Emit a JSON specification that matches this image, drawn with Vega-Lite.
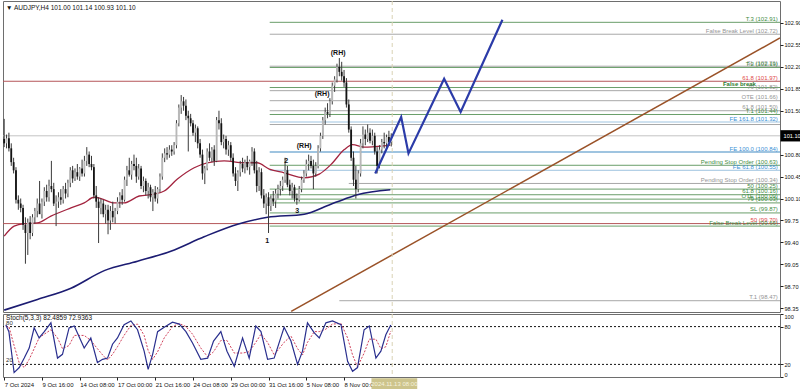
{
  "$schema": "https://vega.github.io/schema/vega-lite/v6.json",
  "padding": 0,
  "spacing": 2,
  "bounds": "flush",
  "background": "white",
  "config": {
    "font": "Liberation Sans",
    "view": {"stroke": "#6e6e6e", "strokeWidth": 1},
    "axis": {"grid": false, "domain": false, "tickColor": "#222", "tickSize": 3, "labelFontSize": 6, "labelColor": "#111", "labelPadding": 2, "labelOverlap": false, "title": null}
  },
  "datasets": {
    "candles": [
      {"i":0,"o":101.05,"h":101.37,"l":100.92,"c":100.98},{"i":1,"o":100.98,"h":101.12,"l":100.90,"c":101.06},{"i":2,"o":101.06,"h":101.15,"l":100.85,"c":100.90},{"i":3,"o":100.90,"h":100.98,"l":100.62,"c":100.68},{"i":4,"o":100.68,"h":100.75,"l":100.50,"c":100.55},
      {"i":5,"o":100.55,"h":100.60,"l":100.02,"c":100.08},{"i":6,"o":100.08,"h":100.15,"l":99.92,"c":100.02},{"i":7,"o":100.02,"h":100.10,"l":99.88,"c":99.95},{"i":8,"o":99.95,"h":100.00,"l":99.60,"c":99.68},{"i":9,"o":99.68,"h":99.80,"l":99.06,"c":99.55},
      {"i":10,"o":99.55,"h":99.78,"l":99.20,"c":99.72},{"i":11,"o":99.72,"h":99.82,"l":99.45,"c":99.55},{"i":12,"o":99.55,"h":99.85,"l":99.50,"c":99.80},{"i":13,"o":99.80,"h":99.95,"l":99.70,"c":99.90},{"i":14,"o":99.90,"h":100.10,"l":99.80,"c":100.02},
      {"i":15,"o":100.02,"h":100.38,"l":99.95,"c":99.85},{"i":16,"o":99.85,"h":100.10,"l":99.78,"c":100.05},{"i":17,"o":100.05,"h":100.28,"l":99.98,"c":100.22},{"i":18,"o":100.22,"h":100.32,"l":100.05,"c":100.12},{"i":19,"o":100.12,"h":100.40,"l":100.05,"c":100.30},
      {"i":20,"o":100.30,"h":100.70,"l":100.20,"c":100.25},{"i":21,"o":100.25,"h":100.35,"l":99.98,"c":100.02},{"i":22,"o":100.02,"h":100.15,"l":99.66,"c":100.05},{"i":23,"o":100.05,"h":100.20,"l":99.95,"c":100.12},{"i":24,"o":100.12,"h":100.25,"l":100.00,"c":100.08},
      {"i":25,"o":100.08,"h":100.30,"l":100.02,"c":100.25},{"i":26,"o":100.25,"h":100.35,"l":100.10,"c":100.18},{"i":27,"o":100.18,"h":100.40,"l":100.12,"c":100.35},{"i":28,"o":100.35,"h":100.60,"l":100.28,"c":100.55},{"i":29,"o":100.55,"h":100.62,"l":100.35,"c":100.42},
      {"i":30,"o":100.42,"h":100.58,"l":100.38,"c":100.52},{"i":31,"o":100.52,"h":100.65,"l":100.40,"c":100.45},{"i":32,"o":100.45,"h":100.60,"l":100.38,"c":100.58},{"i":33,"o":100.58,"h":100.72,"l":100.45,"c":100.50},{"i":34,"o":100.50,"h":100.78,"l":100.45,"c":100.70},
      {"i":35,"o":100.70,"h":100.92,"l":100.62,"c":100.80},{"i":36,"o":100.80,"h":100.85,"l":100.60,"c":100.65},{"i":37,"o":100.65,"h":100.78,"l":100.55,"c":100.60},{"i":38,"o":100.60,"h":100.65,"l":100.10,"c":100.15},{"i":39,"o":100.15,"h":100.30,"l":99.95,"c":100.05},
      {"i":40,"o":100.05,"h":100.12,"l":99.39,"c":99.95},{"i":41,"o":99.95,"h":100.10,"l":99.85,"c":100.02},{"i":42,"o":100.02,"h":100.08,"l":99.80,"c":99.85},{"i":43,"o":99.85,"h":100.00,"l":99.70,"c":99.92},{"i":44,"o":99.92,"h":100.00,"l":99.53,"c":99.75},
      {"i":45,"o":99.75,"h":99.98,"l":99.60,"c":99.90},{"i":46,"o":99.90,"h":100.05,"l":99.72,"c":99.80},{"i":47,"o":99.80,"h":99.95,"l":99.70,"c":99.90},{"i":48,"o":99.90,"h":100.12,"l":99.85,"c":100.05},{"i":49,"o":100.05,"h":100.20,"l":99.95,"c":100.15},
      {"i":50,"o":100.15,"h":100.25,"l":100.00,"c":100.08},{"i":51,"o":100.08,"h":100.45,"l":100.05,"c":100.40},{"i":52,"o":100.40,"h":100.62,"l":100.30,"c":100.55},{"i":53,"o":100.55,"h":100.75,"l":100.45,"c":100.48},{"i":54,"o":100.48,"h":100.70,"l":100.40,"c":100.65},
      {"i":55,"o":100.65,"h":100.80,"l":100.55,"c":100.62},{"i":56,"o":100.62,"h":100.75,"l":100.35,"c":100.45},{"i":57,"o":100.45,"h":100.65,"l":100.40,"c":100.58},{"i":58,"o":100.58,"h":100.62,"l":100.25,"c":100.30},{"i":59,"o":100.30,"h":100.45,"l":100.20,"c":100.38},
      {"i":60,"o":100.38,"h":100.42,"l":100.15,"c":100.22},{"i":61,"o":100.22,"h":100.35,"l":100.10,"c":100.28},{"i":62,"o":100.28,"h":100.32,"l":100.05,"c":100.12},{"i":63,"o":100.12,"h":100.25,"l":99.90,"c":100.20},{"i":64,"o":100.20,"h":100.30,"l":100.05,"c":100.10},
      {"i":65,"o":100.10,"h":100.28,"l":100.02,"c":100.25},{"i":66,"o":100.25,"h":100.50,"l":100.20,"c":100.45},{"i":67,"o":100.45,"h":100.82,"l":100.40,"c":100.75},{"i":68,"o":100.75,"h":100.90,"l":100.68,"c":100.82},{"i":69,"o":100.82,"h":100.92,"l":100.72,"c":100.80},
      {"i":70,"o":100.80,"h":100.95,"l":100.75,"c":100.88},{"i":71,"o":100.88,"h":100.95,"l":100.78,"c":100.85},{"i":72,"o":100.85,"h":101.00,"l":100.80,"c":100.95},{"i":73,"o":100.95,"h":101.35,"l":100.90,"c":101.30},{"i":74,"o":101.30,"h":101.60,"l":101.25,"c":101.55},
      {"i":75,"o":101.55,"h":101.75,"l":101.45,"c":101.65},{"i":76,"o":101.65,"h":101.72,"l":101.50,"c":101.58},{"i":77,"o":101.58,"h":101.68,"l":101.35,"c":101.42},{"i":78,"o":101.42,"h":101.50,"l":100.85,"c":101.38},{"i":79,"o":101.38,"h":101.45,"l":101.25,"c":101.30},
      {"i":80,"o":101.30,"h":101.35,"l":101.10,"c":101.15},{"i":81,"o":101.15,"h":101.28,"l":101.00,"c":101.22},{"i":82,"o":101.22,"h":101.25,"l":100.90,"c":100.98},{"i":83,"o":100.98,"h":101.05,"l":100.75,"c":100.80},{"i":84,"o":100.80,"h":100.88,"l":100.40,"c":100.50},
      {"i":85,"o":100.50,"h":100.62,"l":100.33,"c":100.58},{"i":86,"o":100.58,"h":100.90,"l":100.55,"c":100.85},{"i":87,"o":100.85,"h":100.98,"l":100.70,"c":100.75},{"i":88,"o":100.75,"h":100.92,"l":100.68,"c":100.88},{"i":89,"o":100.88,"h":100.95,"l":100.62,"c":100.70},
      {"i":90,"o":100.70,"h":101.40,"l":100.68,"c":101.35},{"i":91,"o":101.35,"h":101.50,"l":101.20,"c":101.30},{"i":92,"o":101.30,"h":101.38,"l":100.95,"c":101.00},{"i":93,"o":101.00,"h":101.12,"l":100.90,"c":101.05},{"i":94,"o":101.05,"h":101.10,"l":100.80,"c":100.88},
      {"i":95,"o":100.88,"h":101.02,"l":100.78,"c":100.95},{"i":96,"o":100.95,"h":101.00,"l":100.70,"c":100.75},{"i":97,"o":100.75,"h":100.82,"l":100.45,"c":100.50},{"i":98,"o":100.50,"h":100.60,"l":100.30,"c":100.38},{"i":99,"o":100.38,"h":100.55,"l":100.22,"c":100.52},
      {"i":100,"o":100.52,"h":100.70,"l":100.45,"c":100.65},{"i":101,"o":100.65,"h":100.75,"l":100.52,"c":100.58},{"i":102,"o":100.58,"h":100.72,"l":100.50,"c":100.68},{"i":103,"o":100.68,"h":100.78,"l":100.55,"c":100.60},{"i":104,"o":100.60,"h":100.72,"l":100.48,"c":100.70},
      {"i":105,"o":100.70,"h":100.92,"l":100.62,"c":100.85},{"i":106,"o":100.85,"h":100.90,"l":100.50,"c":100.55},{"i":107,"o":100.55,"h":100.70,"l":100.20,"c":100.30},{"i":108,"o":100.30,"h":100.60,"l":100.22,"c":100.52},{"i":109,"o":100.52,"h":100.58,"l":100.10,"c":100.15},
      {"i":110,"o":100.15,"h":100.25,"l":99.95,"c":100.02},{"i":111,"o":100.02,"h":100.18,"l":99.85,"c":100.12},{"i":112,"o":100.12,"h":100.20,"l":99.55,"c":99.98},{"i":113,"o":99.98,"h":100.15,"l":99.90,"c":100.10},{"i":114,"o":100.10,"h":100.22,"l":99.98,"c":100.05},
      {"i":115,"o":100.05,"h":100.25,"l":99.95,"c":100.18},{"i":116,"o":100.18,"h":100.32,"l":100.10,"c":100.25},{"i":117,"o":100.25,"h":100.38,"l":100.15,"c":100.30},{"i":118,"o":100.30,"h":100.45,"l":100.22,"c":100.40},{"i":119,"o":100.40,"h":100.75,"l":100.35,"c":100.55},
      {"i":120,"o":100.55,"h":100.62,"l":100.28,"c":100.32},{"i":121,"o":100.32,"h":100.40,"l":100.15,"c":100.22},{"i":122,"o":100.22,"h":100.35,"l":100.10,"c":100.28},{"i":123,"o":100.28,"h":100.32,"l":100.05,"c":100.10},{"i":124,"o":100.10,"h":100.18,"l":100.00,"c":100.08},
      {"i":125,"o":100.08,"h":100.30,"l":100.05,"c":100.25},{"i":126,"o":100.25,"h":100.45,"l":100.20,"c":100.40},{"i":127,"o":100.40,"h":100.55,"l":100.35,"c":100.50},{"i":128,"o":100.50,"h":100.72,"l":100.45,"c":100.65},{"i":129,"o":100.65,"h":100.80,"l":100.55,"c":100.70},
      {"i":130,"o":100.70,"h":100.78,"l":100.58,"c":100.62},{"i":131,"o":100.62,"h":100.72,"l":100.25,"c":100.50},{"i":132,"o":100.50,"h":100.68,"l":100.45,"c":100.62},{"i":133,"o":100.62,"h":100.95,"l":100.58,"c":100.90},{"i":134,"o":100.90,"h":101.15,"l":100.85,"c":101.10},
      {"i":135,"o":101.10,"h":101.40,"l":101.05,"c":101.35},{"i":136,"o":101.35,"h":101.55,"l":101.28,"c":101.48},{"i":137,"o":101.48,"h":101.62,"l":101.38,"c":101.45},{"i":138,"o":101.45,"h":101.70,"l":101.40,"c":101.65},{"i":139,"o":101.65,"h":101.95,"l":101.60,"c":101.90},
      {"i":140,"o":101.90,"h":102.05,"l":101.80,"c":102.00},{"i":141,"o":102.00,"h":102.25,"l":101.95,"c":102.20},{"i":142,"o":102.20,"h":102.34,"l":102.05,"c":102.12},{"i":143,"o":102.12,"h":102.28,"l":101.98,"c":102.05},{"i":144,"o":102.05,"h":102.15,"l":101.88,"c":101.95},
      {"i":145,"o":101.95,"h":102.02,"l":101.55,"c":101.60},{"i":146,"o":101.60,"h":101.68,"l":101.15,"c":101.20},{"i":147,"o":101.20,"h":101.25,"l":100.70,"c":100.75},{"i":148,"o":100.75,"h":100.85,"l":100.30,"c":100.40},{"i":149,"o":100.40,"h":100.62,"l":100.10,"c":100.25},
      {"i":150,"o":100.25,"h":100.55,"l":100.20,"c":100.50},{"i":151,"o":100.50,"h":101.05,"l":100.45,"c":100.98},{"i":152,"o":100.98,"h":101.25,"l":100.90,"c":101.12},{"i":153,"o":101.12,"h":101.20,"l":100.95,"c":101.05},{"i":154,"o":101.05,"h":101.28,"l":101.00,"c":101.15},
      {"i":155,"o":101.15,"h":101.22,"l":100.98,"c":101.02},{"i":156,"o":101.02,"h":101.20,"l":100.95,"c":101.10},{"i":157,"o":101.10,"h":101.15,"l":100.80,"c":100.85},{"i":158,"o":100.85,"h":100.92,"l":100.50,"c":100.62},{"i":159,"o":100.62,"h":100.95,"l":100.58,"c":100.88},
      {"i":160,"o":100.88,"h":101.05,"l":100.82,"c":101.00},{"i":161,"o":101.00,"h":101.15,"l":100.90,"c":100.98},{"i":162,"o":100.98,"h":101.12,"l":100.88,"c":101.08},{"i":163,"o":101.08,"h":101.18,"l":100.95,"c":101.00},{"i":164,"o":101.00,"h":101.14,"l":100.93,"c":101.10}
    ],
    "levels": [
      {"p":102.91,"s":112.5,"k":"g","t":"T.3 (102.91)"},
      {"p":102.72,"s":112.5,"k":"a","t":"False Break Level (102.72)"},
      {"p":102.21,"s":112.5,"k":"a","t":"SL (102.21)"},
      {"p":102.19,"s":112.5,"k":"g","t":"T.2 (102.19)"},
      {"p":101.97,"s":-0.5,"k":"r","t":"61.8 (101.97)"},
      {"p":101.87,"s":112.5,"k":"g","t":""},
      {"p":101.82,"s":112.5,"k":"a","t":"79 (101.82)"},
      {"p":101.66,"s":112.5,"k":"a","t":"OTE (101.66)"},
      {"p":101.50,"s":112.5,"k":"a","t":"61.8 (101.50)"},
      {"p":101.44,"s":112.5,"k":"g","t":"T.1 (101.44)"},
      {"p":101.32,"s":112.5,"k":"b","t":"FE 161.8 (101.32)"},
      {"p":101.28,"s":112.5,"k":"a","t":""},
      {"p":101.10,"s":-0.5,"k":"c","t":""},
      {"p":100.84,"s":112.5,"k":"b","t":"FE 100.0 (100.84)"},
      {"p":100.63,"s":112.5,"k":"g","t":"Pending Stop Order (100.63)"},
      {"p":100.55,"s":112.5,"k":"b","t":"FE 61.8 (100.55)"},
      {"p":100.34,"s":146,"k":"a","t":"Pending Stop Order (100.34)"},
      {"p":100.25,"s":112.5,"k":"g","t":"50 (100.25)"},
      {"p":100.16,"s":112.5,"k":"g","t":"61.8 (100.16)"},
      {"p":100.09,"s":112.5,"k":"g","t":"OTE (100.09)"},
      {"p":100.03,"s":112.5,"k":"g","t":"79 (100.03)"},
      {"p":99.87,"s":112.5,"k":"g","t":"SL (99.87)"},
      {"p":99.70,"s":-0.5,"k":"r","t":"50 (99.70)"},
      {"p":99.66,"s":112.5,"k":"g","t":"False Break Level (99.66)"},
      {"p":98.47,"s":142,"k":"a","t":"T.1 (98.47)"}
    ],
    "ma200": [
      {"i":0,"p":98.32},{"i":14.1,"p":98.49},{"i":28.3,"p":98.67},{"i":42.4,"p":98.95},{"i":56.5,"p":99.10},{"i":70.6,"p":99.26},{"i":84.7,"p":99.49},{"i":98.9,"p":99.69},{"i":111.6,"p":99.80},{"i":127.1,"p":99.85},{"i":138.4,"p":100.01},{"i":144.1,"p":100.09},{"i":149.6,"p":100.16},{"i":163.6,"p":100.24}
    ],
    "ma50": [
      {"i":0,"p":99.50},{"i":4.2,"p":99.66},{"i":8.5,"p":99.70},{"i":14,"p":99.71},{"i":19.8,"p":99.82},{"i":28.3,"p":99.95},{"i":33.9,"p":100.03},{"i":38.1,"p":100.12},{"i":41,"p":100.10},{"i":46.6,"p":100.03},{"i":50.8,"p":100.03},{"i":57.2,"p":100.14},{"i":63.6,"p":100.17},{"i":67.8,"p":100.22},{"i":73.4,"p":100.41},{"i":80.5,"p":100.59},{"i":86,"p":100.67},{"i":93.2,"p":100.70},{"i":101.7,"p":100.67},{"i":107.2,"p":100.67},{"i":112.3,"p":100.57},{"i":118.6,"p":100.51},{"i":127.1,"p":100.43},{"i":133.5,"p":100.49},{"i":138.4,"p":100.64},{"i":144.1,"p":100.88},{"i":147.6,"p":100.96},{"i":152.5,"p":100.92},{"i":161,"p":100.94},{"i":163.6,"p":100.95}
    ],
    "trend": [{"i":121.6,"p":98.30},{"i":328.7,"p":102.66}],
    "zigzag": [
      {"i":157.2,"p":100.50},{"i":168.2,"p":101.40},{"i":171.3,"p":100.82},{"i":186.4,"p":102.01},{"i":193.4,"p":101.48},{"i":211.1,"p":102.95}
    ],
    "notes": [
      {"i":141.5,"p":102.42,"t":"(RH)"},{"i":134.7,"p":101.77,"t":"(RH)"},{"i":127.1,"p":100.94,"t":"(RH)"},
      {"i":119.5,"p":100.70,"t":"2"},{"i":111.4,"p":99.42,"t":"1"},{"i":124.2,"p":99.90,"t":"3"}
    ],
    "stoch": [
      {"i":0.7,"k":83,"d":80},{"i":2,"k":72,"d":80},{"i":4.2,"k":7,"d":50},{"i":6.4,"k":15,"d":22},{"i":8.5,"k":30,"d":15},{"i":10.6,"k":46,"d":28},{"i":12.7,"k":78,"d":45},{"i":14.8,"k":62,"d":62},{"i":17,"k":72,"d":68},{"i":19.8,"k":86,"d":75},
      {"i":22.6,"k":30,"d":62},{"i":24.7,"k":36,"d":45},{"i":27.5,"k":78,"d":50},{"i":29.7,"k":81,"d":66},{"i":33.9,"k":46,"d":66},{"i":36.7,"k":62,"d":58},{"i":39.5,"k":23,"d":45},{"i":41.7,"k":28,"d":35},{"i":43.8,"k":30,"d":27},{"i":45.9,"k":52,"d":36},
      {"i":48,"k":62,"d":48},{"i":50.8,"k":83,"d":66},{"i":53.7,"k":89,"d":82},{"i":56.5,"k":75,"d":84},{"i":59.3,"k":41,"d":66},{"i":61,"k":12,"d":42},{"i":62.9,"k":36,"d":28},{"i":65,"k":72,"d":40},{"i":67.8,"k":79,"d":62},{"i":71.3,"k":87,"d":80},
      {"i":74.2,"k":84,"d":85},{"i":77,"k":72,"d":80},{"i":79.8,"k":54,"d":68},{"i":83.3,"k":28,"d":46},{"i":86.2,"k":30,"d":32},{"i":88.7,"k":57,"d":40},{"i":91.8,"k":72,"d":58},{"i":94.4,"k":41,"d":58},{"i":97.5,"k":17,"d":38},{"i":101,"k":62,"d":38},
      {"i":103.8,"k":30,"d":40},{"i":106.6,"k":81,"d":55},{"i":108.8,"k":72,"d":68},{"i":111.6,"k":28,"d":55},{"i":114.4,"k":30,"d":35},{"i":118.6,"k":79,"d":55},{"i":121.5,"k":57,"d":65},{"i":124.3,"k":20,"d":45},{"i":126.4,"k":41,"d":35},{"i":128.5,"k":86,"d":55},
      {"i":131.4,"k":70,"d":72},{"i":133.5,"k":62,"d":72},{"i":136.3,"k":86,"d":76},{"i":139.1,"k":89,"d":84},{"i":142.7,"k":83,"d":85},{"i":145.5,"k":25,"d":62},{"i":147.6,"k":9,"d":35},{"i":149.7,"k":15,"d":16},{"i":152.5,"k":75,"d":38},{"i":154.7,"k":81,"d":60},
      {"i":157.5,"k":30,"d":60},{"i":159.6,"k":41,"d":45},{"i":161.7,"k":67,"d":48},{"i":163.8,"k":82.49,"d":72.94}
    ]
  },
  "vconcat": [
    {
      "width": 777,
      "height": 311,
      "layer": [
        {
          "data": {"name": "levels"},
          "mark": {"type": "rule", "clip": true},
          "encoding": {
            "x": {"field": "s", "type": "quantitative", "title": null, "scale": {"domain": [-0.5, 328.7], "nice": false, "zero": false}, "axis": null},
            "x2": {"datum": 328.7},
            "y": {"field": "p", "type": "quantitative", "title": null, "scale": {"domain": [98.29, 103.25], "nice": false, "zero": false},
                  "axis": {"orient": "right", "values": [102.9, 102.55, 102.2, 101.85, 101.5, 100.8, 100.45, 100.1, 99.75, 99.4, 99.05, 98.7, 98.35], "format": ".2f", "labelOverlap": false, "labelFontSize": 5.6, "labelPadding": 1, "title": null}},
            "stroke": {"field": "k", "type": "nominal", "legend": null, "scale": {"domain": ["g", "a", "r", "b", "c"], "range": ["#6a9e6a", "#a8a8a8", "#b5565a", "#9fc4e0", "#c4c4c4"]}},
            "strokeWidth": {"condition": {"test": "datum.p == 100.84", "value": 2}, "value": 1}
          }
        },
        {
          "data": {"name": "levels"},
          "transform": [{"filter": "datum.t != ''"}],
          "mark": {"type": "text", "align": "right", "baseline": "bottom", "dy": -0.5, "fontSize": 6},
          "encoding": {
            "x": {"datum": 327.8, "axis": null},
            "y": {"field": "p", "type": "quantitative", "title": null,
                  "axis": {"orient": "right", "values": [102.9, 102.55, 102.2, 101.85, 101.5, 100.8, 100.45, 100.1, 99.75, 99.4, 99.05, 98.7, 98.35], "format": ".2f", "labelOverlap": false, "labelFontSize": 5.6, "labelPadding": 1, "title": null}},
            "text": {"field": "t"},
            "color": {"field": "k", "type": "nominal", "legend": null, "scale": {"domain": ["g", "a", "r", "b", "c"], "range": ["#3f8c3f", "#949494", "#e04848", "#3b8fd6", "#999999"]}}
          }
        },
        {
          "data": {"values": [{"t": "False break"}]},
          "mark": {"type": "text", "align": "left", "baseline": "bottom", "dy": -0.5, "fontSize": 6, "color": "#2f7d2f", "fontWeight": "bold"},
          "encoding": {
            "x": {"datum": 304.5, "axis": null},
            "y": {"datum": 101.87,
                  "axis": {"orient": "right", "values": [102.9, 102.55, 102.2, 101.85, 101.5, 100.8, 100.45, 100.1, 99.75, 99.4, 99.05, 98.7, 98.35], "format": ".2f", "labelOverlap": false, "labelFontSize": 5.6, "labelPadding": 1, "title": null}},
            "text": {"field": "t"}
          }
        },
        {
          "data": {"name": "trend"},
          "mark": {"type": "line", "color": "#9a5228", "strokeWidth": 1.5, "clip": true},
          "encoding": {
            "x": {"field": "i", "type": "quantitative", "title": null, "axis": null},
            "y": {"field": "p", "type": "quantitative", "title": null,
                  "axis": {"orient": "right", "values": [102.9, 102.55, 102.2, 101.85, 101.5, 100.8, 100.45, 100.1, 99.75, 99.4, 99.05, 98.7, 98.35], "format": ".2f", "labelOverlap": false, "labelFontSize": 5.6, "labelPadding": 1, "title": null}}
          }
        },
        {
          "data": {"values": [{"v": 164.4}]},
          "mark": {"type": "rule", "color": "#d9d2b4", "strokeDash": [4, 3], "strokeWidth": 1},
          "encoding": {"x": {"field": "v", "type": "quantitative", "title": null, "axis": null}}
        },
        {
          "data": {"name": "ma200"},
          "mark": {"type": "line", "color": "#1c1c72", "strokeWidth": 1.6, "interpolate": "monotone"},
          "encoding": {
            "x": {"field": "i", "type": "quantitative", "title": null, "axis": null},
            "y": {"field": "p", "type": "quantitative", "title": null,
                  "axis": {"orient": "right", "values": [102.9, 102.55, 102.2, 101.85, 101.5, 100.8, 100.45, 100.1, 99.75, 99.4, 99.05, 98.7, 98.35], "format": ".2f", "labelOverlap": false, "labelFontSize": 5.6, "labelPadding": 1, "title": null}}
          }
        },
        {
          "data": {"name": "ma50"},
          "mark": {"type": "line", "color": "#a3243f", "strokeWidth": 1.3, "interpolate": "monotone"},
          "encoding": {
            "x": {"field": "i", "type": "quantitative", "title": null, "axis": null},
            "y": {"field": "p", "type": "quantitative", "title": null,
                  "axis": {"orient": "right", "values": [102.9, 102.55, 102.2, 101.85, 101.5, 100.8, 100.45, 100.1, 99.75, 99.4, 99.05, 98.7, 98.35], "format": ".2f", "labelOverlap": false, "labelFontSize": 5.6, "labelPadding": 1, "title": null}}
          }
        },
        {
          "data": {"name": "candles"},
          "mark": {"type": "rule", "color": "#3a3a3a", "strokeWidth": 1},
          "encoding": {
            "x": {"field": "i", "type": "quantitative", "title": null, "axis": null},
            "y": {"field": "l", "type": "quantitative", "title": null,
                  "axis": {"orient": "right", "values": [102.9, 102.55, 102.2, 101.85, 101.5, 100.8, 100.45, 100.1, 99.75, 99.4, 99.05, 98.7, 98.35], "format": ".2f", "labelOverlap": false, "labelFontSize": 5.6, "labelPadding": 1, "title": null}},
            "y2": {"field": "h"}
          }
        },
        {
          "data": {"name": "candles"},
          "mark": {"type": "rule", "strokeWidth": 1.8},
          "encoding": {
            "x": {"field": "i", "type": "quantitative", "title": null, "axis": null},
            "y": {"field": "o", "type": "quantitative", "title": null,
                  "axis": {"orient": "right", "values": [102.9, 102.55, 102.2, 101.85, 101.5, 100.8, 100.45, 100.1, 99.75, 99.4, 99.05, 98.7, 98.35], "format": ".2f", "labelOverlap": false, "labelFontSize": 5.6, "labelPadding": 1, "title": null}},
            "y2": {"field": "c"},
            "color": {"condition": {"test": "datum.c >= datum.o", "value": "#b8b8b8"}, "value": "#141414"}
          }
        },
        {
          "data": {"name": "zigzag"},
          "mark": {"type": "line", "color": "#2b3ba8", "strokeWidth": 2.2},
          "encoding": {
            "x": {"field": "i", "type": "quantitative", "title": null, "axis": null},
            "y": {"field": "p", "type": "quantitative", "title": null,
                  "axis": {"orient": "right", "values": [102.9, 102.55, 102.2, 101.85, 101.5, 100.8, 100.45, 100.1, 99.75, 99.4, 99.05, 98.7, 98.35], "format": ".2f", "labelOverlap": false, "labelFontSize": 5.6, "labelPadding": 1, "title": null}}
          }
        },
        {
          "data": {"name": "notes"},
          "mark": {"type": "text", "fontSize": 7, "fontWeight": "bold", "color": "#111", "baseline": "middle"},
          "encoding": {
            "x": {"field": "i", "type": "quantitative", "title": null, "axis": null},
            "y": {"field": "p", "type": "quantitative", "title": null,
                  "axis": {"orient": "right", "values": [102.9, 102.55, 102.2, 101.85, 101.5, 100.8, 100.45, 100.1, 99.75, 99.4, 99.05, 98.7, 98.35], "format": ".2f", "labelOverlap": false, "labelFontSize": 5.6, "labelPadding": 1, "title": null}},
            "text": {"field": "t"}
          }
        },
        {
          "data": {"values": [{"t": "▼ AUDJPY,H4  101.00 101.14 100.93 101.10"}]},
          "mark": {"type": "text", "align": "left", "baseline": "middle", "fontSize": 6.5, "color": "#111"},
          "encoding": {
            "x": {"datum": 0.8, "axis": null},
            "y": {"datum": 103.14,
                  "axis": {"orient": "right", "values": [102.9, 102.55, 102.2, 101.85, 101.5, 100.8, 100.45, 100.1, 99.75, 99.4, 99.05, 98.7, 98.35], "format": ".2f", "labelOverlap": false, "labelFontSize": 5.6, "labelPadding": 1, "title": null}},
            "text": {"field": "t"}
          }
        },
        {
          "data": {"values": [{"t": "101.10"}]},
          "mark": {"type": "rect", "color": "#000000", "clip": false},
          "encoding": {
            "x": {"datum": 328.9, "axis": null},
            "x2": {"datum": 338.4},
            "y": {"datum": 101.19,
                  "axis": {"orient": "right", "values": [102.9, 102.55, 102.2, 101.85, 101.5, 100.8, 100.45, 100.1, 99.75, 99.4, 99.05, 98.7, 98.35], "format": ".2f", "labelOverlap": false, "labelFontSize": 5.6, "labelPadding": 1, "title": null}},
            "y2": {"datum": 101.01}
          }
        },
        {
          "data": {"values": [{"t": "101.10"}]},
          "mark": {"type": "text", "align": "left", "baseline": "middle", "fontSize": 5.6, "color": "#ffffff", "clip": false},
          "encoding": {
            "x": {"datum": 330.2, "axis": null},
            "y": {"datum": 101.10,
                  "axis": {"orient": "right", "values": [102.9, 102.55, 102.2, 101.85, 101.5, 100.8, 100.45, 100.1, 99.75, 99.4, 99.05, 98.7, 98.35], "format": ".2f", "labelOverlap": false, "labelFontSize": 5.6, "labelPadding": 1, "title": null}},
            "text": {"field": "t"}
          }
        }
      ]
    },
    {
      "width": 777,
      "height": 63,
      "layer": [
        {
          "data": {"values": [{"v": 80}, {"v": 20}]},
          "mark": {"type": "rule", "color": "#111", "strokeDash": [2, 2], "strokeWidth": 1},
          "encoding": {
            "y": {"field": "v", "type": "quantitative", "title": null, "scale": {"domain": [0, 100], "nice": false},
                  "axis": {"orient": "right", "values": [0, 20, 80, 100], "labelOverlap": false, "labelFlush": true, "labelFontSize": 5.6, "labelPadding": 1, "title": null}}
          }
        },
        {
          "data": {"name": "stoch"},
          "mark": {"type": "line", "color": "#d0405a", "strokeWidth": 1, "strokeDash": [2, 1.5]},
          "encoding": {
            "x": {"field": "i", "type": "quantitative", "title": null, "scale": {"domain": [-0.5, 328.7], "nice": false, "zero": false},
                  "axis": {"values": [0, 16, 32, 48, 64, 80, 96, 112, 128, 144], "labelAlign": "left", "labelPadding": 1, "labelOverlap": false, "title": null,
                           "labelExpr": "['7 Oct 2024','9 Oct 16:00','14 Oct 08:00','17 Oct 00:00','21 Oct 16:00','24 Oct 08:00','29 Oct 00:00','31 Oct 16:00','5 Nov 08:00','8 Nov 00:00'][round(datum.value / 16)]"}},
            "y": {"field": "d", "type": "quantitative", "title": null,
                  "axis": {"orient": "right", "values": [0, 20, 80, 100], "labelOverlap": false, "labelFlush": true, "labelFontSize": 5.6, "labelPadding": 1, "title": null}}
          }
        },
        {
          "data": {"values": [{"v": 164.4}]},
          "mark": {"type": "rule", "color": "#d9d2b4", "strokeDash": [4, 3], "strokeWidth": 1},
          "encoding": {"x": {"field": "v", "type": "quantitative", "title": null,
                  "axis": {"values": [0, 16, 32, 48, 64, 80, 96, 112, 128, 144], "labelAlign": "left", "labelPadding": 1, "labelOverlap": false, "title": null,
                           "labelExpr": "['7 Oct 2024','9 Oct 16:00','14 Oct 08:00','17 Oct 00:00','21 Oct 16:00','24 Oct 08:00','29 Oct 00:00','31 Oct 16:00','5 Nov 08:00','8 Nov 00:00'][round(datum.value / 16)]"}}}
        },
        {
          "data": {"name": "stoch"},
          "mark": {"type": "line", "color": "#2a2f8e", "strokeWidth": 1.2},
          "encoding": {
            "x": {"field": "i", "type": "quantitative", "title": null,
                  "axis": {"values": [0, 16, 32, 48, 64, 80, 96, 112, 128, 144], "labelAlign": "left", "labelPadding": 1, "labelOverlap": false, "title": null,
                           "labelExpr": "['7 Oct 2024','9 Oct 16:00','14 Oct 08:00','17 Oct 00:00','21 Oct 16:00','24 Oct 08:00','29 Oct 00:00','31 Oct 16:00','5 Nov 08:00','8 Nov 00:00'][round(datum.value / 16)]"}},
            "y": {"field": "k", "type": "quantitative", "title": null,
                  "axis": {"orient": "right", "values": [0, 20, 80, 100], "labelOverlap": false, "labelFlush": true, "labelFontSize": 5.6, "labelPadding": 1, "title": null}}
          }
        },
        {
          "data": {"values": [{"t": "Stoch(5,3,3) 82.4859 72.9363"}]},
          "mark": {"type": "text", "align": "left", "baseline": "middle", "fontSize": 6.5, "color": "#111"},
          "encoding": {
            "x": {"datum": 0.8,
                  "axis": {"values": [0, 16, 32, 48, 64, 80, 96, 112, 128, 144], "labelAlign": "left", "labelPadding": 1, "labelOverlap": false, "title": null,
                           "labelExpr": "['7 Oct 2024','9 Oct 16:00','14 Oct 08:00','17 Oct 00:00','21 Oct 16:00','24 Oct 08:00','29 Oct 00:00','31 Oct 16:00','5 Nov 08:00','8 Nov 00:00'][round(datum.value / 16)]"}},
            "y": {"datum": 93,
                  "axis": {"orient": "right", "values": [0, 20, 80, 100], "labelOverlap": false, "labelFlush": true, "labelFontSize": 5.6, "labelPadding": 1, "title": null}},
            "text": {"field": "t"}
          }
        },
        {
          "data": {"values": [{"t": "80", "v": 80}, {"t": "20", "v": 20}]},
          "mark": {"type": "text", "align": "left", "baseline": "bottom", "dy": -1, "fontSize": 6, "color": "#333"},
          "encoding": {
            "x": {"datum": 0.8,
                  "axis": {"values": [0, 16, 32, 48, 64, 80, 96, 112, 128, 144], "labelAlign": "left", "labelPadding": 1, "labelOverlap": false, "title": null,
                           "labelExpr": "['7 Oct 2024','9 Oct 16:00','14 Oct 08:00','17 Oct 00:00','21 Oct 16:00','24 Oct 08:00','29 Oct 00:00','31 Oct 16:00','5 Nov 08:00','8 Nov 00:00'][round(datum.value / 16)]"}},
            "y": {"field": "v", "type": "quantitative", "title": null,
                  "axis": {"orient": "right", "values": [0, 20, 80, 100], "labelOverlap": false, "labelFlush": true, "labelFontSize": 5.6, "labelPadding": 1, "title": null}},
            "text": {"field": "t"}
          }
        },
        {
          "data": {"values": [{"t": "2024.11.13 08:00"}]},
          "mark": {"type": "rect", "color": "#cdc48c", "clip": false},
          "encoding": {
            "x": {"datum": 155.6,
                  "axis": {"values": [0, 16, 32, 48, 64, 80, 96, 112, 128, 144], "labelAlign": "left", "labelPadding": 1, "labelOverlap": false, "title": null,
                           "labelExpr": "['7 Oct 2024','9 Oct 16:00','14 Oct 08:00','17 Oct 00:00','21 Oct 16:00','24 Oct 08:00','29 Oct 00:00','31 Oct 16:00','5 Nov 08:00','8 Nov 00:00'][round(datum.value / 16)]"}},
            "x2": {"datum": 175},
            "y": {"datum": -2,
                  "axis": {"orient": "right", "values": [0, 20, 80, 100], "labelOverlap": false, "labelFlush": true, "labelFontSize": 5.6, "labelPadding": 1, "title": null}},
            "y2": {"datum": -19}
          }
        },
        {
          "data": {"values": [{"t": "2024.11.13 08:00"}]},
          "mark": {"type": "text", "align": "center", "baseline": "middle", "fontSize": 6, "color": "#f6f2de", "clip": false},
          "encoding": {
            "x": {"datum": 165.3,
                  "axis": {"values": [0, 16, 32, 48, 64, 80, 96, 112, 128, 144], "labelAlign": "left", "labelPadding": 1, "labelOverlap": false, "title": null,
                           "labelExpr": "['7 Oct 2024','9 Oct 16:00','14 Oct 08:00','17 Oct 00:00','21 Oct 16:00','24 Oct 08:00','29 Oct 00:00','31 Oct 16:00','5 Nov 08:00','8 Nov 00:00'][round(datum.value / 16)]"}},
            "y": {"datum": -10.5,
                  "axis": {"orient": "right", "values": [0, 20, 80, 100], "labelOverlap": false, "labelFlush": true, "labelFontSize": 5.6, "labelPadding": 1, "title": null}},
            "text": {"field": "t"}
          }
        }
      ]
    }
  ]
}
